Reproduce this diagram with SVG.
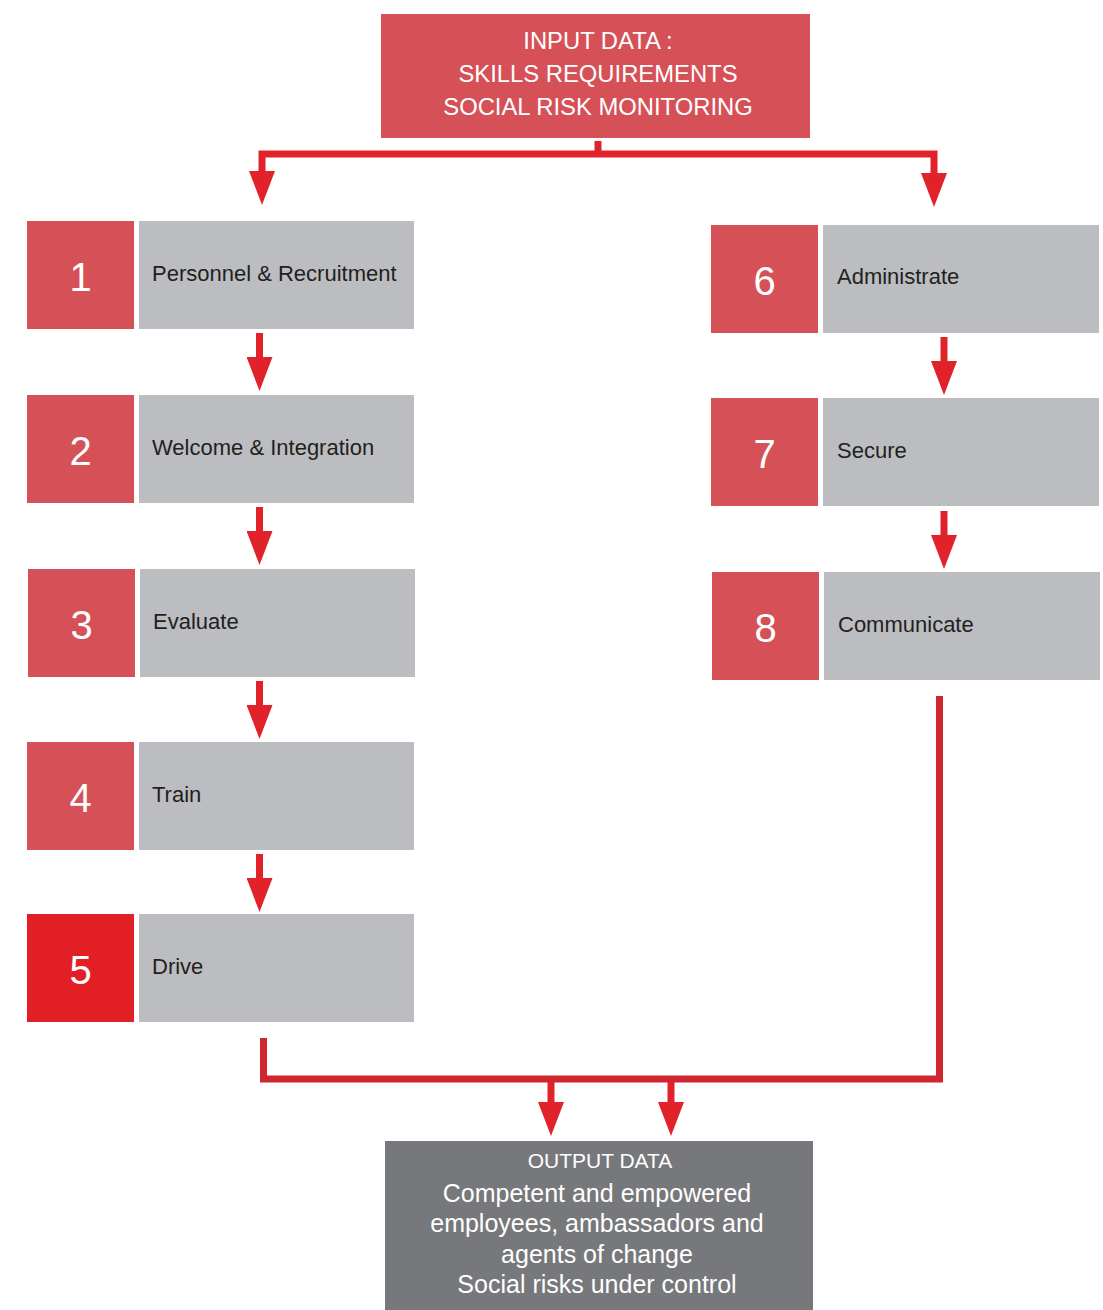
<svg xmlns="http://www.w3.org/2000/svg" width="1103" height="1310" viewBox="0 0 1103 1310">
<style>
.bg{fill:#ffffff}
.num{fill:#d55157}
.num5{fill:#e31f26}
.lab{fill:#bcbdc0}
.ntxt{font-family:"Liberation Sans",Arial,sans-serif;font-size:40px;fill:#ffffff;text-anchor:middle}
.ltxt{font-family:"Liberation Sans",Arial,sans-serif;font-size:22px;fill:#231f20}
.intxt{font-family:"Liberation Sans",Arial,sans-serif;font-size:23.8px;fill:#ffffff;text-anchor:middle}
.outtxt{font-family:"Liberation Sans",Arial,sans-serif;font-size:25px;fill:#ffffff;text-anchor:middle}
.conn{fill:none;stroke:#e2222b;stroke-width:7;stroke-linejoin:miter}
.conn2{fill:none;stroke:#cf2630;stroke-width:7;stroke-linejoin:miter}
</style>
<defs>
<marker id="ah" markerUnits="userSpaceOnUse" viewBox="0 0 34 26" markerWidth="34" markerHeight="26" refX="3" refY="13" orient="auto">
<path d="M0,0 L34,13 L0,26 Z" fill="#e2222b"/>
</marker>
</defs>
<rect class="bg" x="0" y="0" width="1103" height="1310"/>

<g id="input">
<rect x="381" y="14" width="429" height="124" fill="#d55157"/>
<text class="intxt" x="598" y="49">INPUT DATA :</text>
<text class="intxt" x="598" y="82">SKILLS REQUIREMENTS</text>
<text class="intxt" x="598" y="115">SOCIAL RISK MONITORING</text>
</g>

<g id="node1">
<rect class="num" x="27" y="221" width="107" height="108"/>
<rect class="lab" x="139" y="221" width="275" height="108"/>
<text class="ntxt" x="80.5" y="291">1</text>
<text class="ltxt" x="152" y="281">Personnel &amp; Recruitment</text>
</g>
<g id="node2">
<rect class="num" x="27" y="395" width="107" height="108"/>
<rect class="lab" x="139" y="395" width="275" height="108"/>
<text class="ntxt" x="80.5" y="465">2</text>
<text class="ltxt" x="152" y="455">Welcome &amp; Integration</text>
</g>
<g id="node3">
<rect class="num" x="28" y="569" width="107" height="108"/>
<rect class="lab" x="140" y="569" width="275" height="108"/>
<text class="ntxt" x="81.5" y="639">3</text>
<text class="ltxt" x="153" y="629">Evaluate</text>
</g>
<g id="node4">
<rect class="num" x="27" y="742" width="107" height="108"/>
<rect class="lab" x="139" y="742" width="275" height="108"/>
<text class="ntxt" x="80.5" y="812">4</text>
<text class="ltxt" x="152" y="802">Train</text>
</g>
<g id="node5">
<rect class="num5" x="27" y="914" width="107" height="108"/>
<rect class="lab" x="139" y="914" width="275" height="108"/>
<text class="ntxt" x="80.5" y="984">5</text>
<text class="ltxt" x="152" y="974">Drive</text>
</g>
<g id="node6">
<rect class="num" x="711" y="225" width="107" height="108"/>
<rect class="lab" x="823" y="225" width="276" height="108"/>
<text class="ntxt" x="764.5" y="295">6</text>
<text class="ltxt" x="837" y="284">Administrate</text>
</g>
<g id="node7">
<rect class="num" x="711" y="398" width="107" height="108"/>
<rect class="lab" x="823" y="398" width="276" height="108"/>
<text class="ntxt" x="764.5" y="468">7</text>
<text class="ltxt" x="837" y="458">Secure</text>
</g>
<g id="node8">
<rect class="num" x="712" y="572" width="107" height="108"/>
<rect class="lab" x="824" y="572" width="276" height="108"/>
<text class="ntxt" x="765.5" y="642">8</text>
<text class="ltxt" x="838" y="632">Communicate</text>
</g>

<g id="output">
<rect x="385" y="1141" width="428" height="169" fill="#77787b"/>
<text class="outtxt" x="600" y="1168" style="font-size:21px">OUTPUT DATA</text>
<text class="outtxt" x="597" y="1202">Competent and empowered</text>
<text class="outtxt" x="597" y="1232">employees, ambassadors and</text>
<text class="outtxt" x="597" y="1263">agents of change</text>
<text class="outtxt" x="597" y="1293">Social risks under control</text>
</g>

<g id="connectors">
<path class="conn" d="M598,141 V154"/>
<path class="conn" d="M598,154 H262 V174" marker-end="url(#ah)"/>
<path class="conn" d="M598,154 H934 V176" marker-end="url(#ah)"/>
<path class="conn" d="M259.5,333 V360" marker-end="url(#ah)"/>
<path class="conn" d="M259.5,507 V534" marker-end="url(#ah)"/>
<path class="conn" d="M259.5,681 V708" marker-end="url(#ah)"/>
<path class="conn" d="M259.5,854 V881" marker-end="url(#ah)"/>
<path class="conn" d="M944,337 V364" marker-end="url(#ah)"/>
<path class="conn" d="M944,511 V538" marker-end="url(#ah)"/>
<path class="conn2" d="M263.5,1038 V1079 H939.5 V696"/>
<path class="conn" d="M551,1082 V1105" marker-end="url(#ah)"/>
<path class="conn" d="M671,1082 V1105" marker-end="url(#ah)"/>
</g>
</svg>
